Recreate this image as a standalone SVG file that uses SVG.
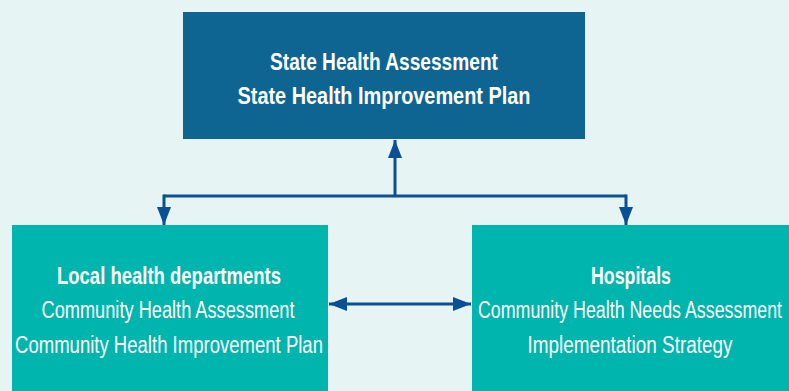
<svg xmlns="http://www.w3.org/2000/svg" width="789" height="391" viewBox="0 0 789 391">
<style>
.t{font-family:"Liberation Sans Narrow","Liberation Sans",Arial,sans-serif;font-size:23px;fill:#ffffff;text-anchor:middle}
.b{font-weight:bold}
.c{fill:none;stroke:#0b4f94;stroke-width:3}
</style>
<defs>
<marker id="ah" markerUnits="userSpaceOnUse" markerWidth="20" markerHeight="14" refX="18" refY="7" orient="auto-start-reverse">
<path d="M0,0 L18,7 L0,14 Z" fill="#0b4f94"/>
</marker>
</defs>
<rect width="789" height="391" fill="#e6f5f4"/>
<g id="state">
<rect x="183" y="12" width="402" height="127" fill="#0e6591"/>
<text class="t b" x="384" y="70" textLength="228" lengthAdjust="spacingAndGlyphs">State Health Assessment</text>
<text class="t b" x="384" y="104" textLength="293" lengthAdjust="spacingAndGlyphs">State Health Improvement Plan</text>
</g>
<g id="local">
<rect x="12" y="225" width="316" height="170" fill="#00b5ad"/>
<text class="t b" x="169" y="284" textLength="224" lengthAdjust="spacingAndGlyphs">Local health departments</text>
<text class="t" x="168" y="318" textLength="253" lengthAdjust="spacingAndGlyphs">Community Health Assessment</text>
<text class="t" x="169" y="353" textLength="308" lengthAdjust="spacingAndGlyphs">Community Health Improvement Plan</text>
</g>
<g id="hospitals">
<rect x="472" y="225" width="320" height="170" fill="#00b5ad"/>
<text class="t b" x="631" y="284" textLength="80" lengthAdjust="spacingAndGlyphs">Hospitals</text>
<text class="t" x="630" y="318" textLength="304" lengthAdjust="spacingAndGlyphs">Community Health Needs Assessment</text>
<text class="t" x="630" y="353" textLength="205" lengthAdjust="spacingAndGlyphs">Implementation Strategy</text>
</g>
<g id="connectors">
<path class="c" d="M395,196 V140" marker-end="url(#ah)"/>
<path class="c" d="M164,196 H626"/>
<path class="c" d="M164,194.5 V225" marker-end="url(#ah)"/>
<path class="c" d="M626,194.5 V225" marker-end="url(#ah)"/>
<path class="c" d="M329,304 H471" marker-start="url(#ah)" marker-end="url(#ah)"/>
</g>
</svg>
